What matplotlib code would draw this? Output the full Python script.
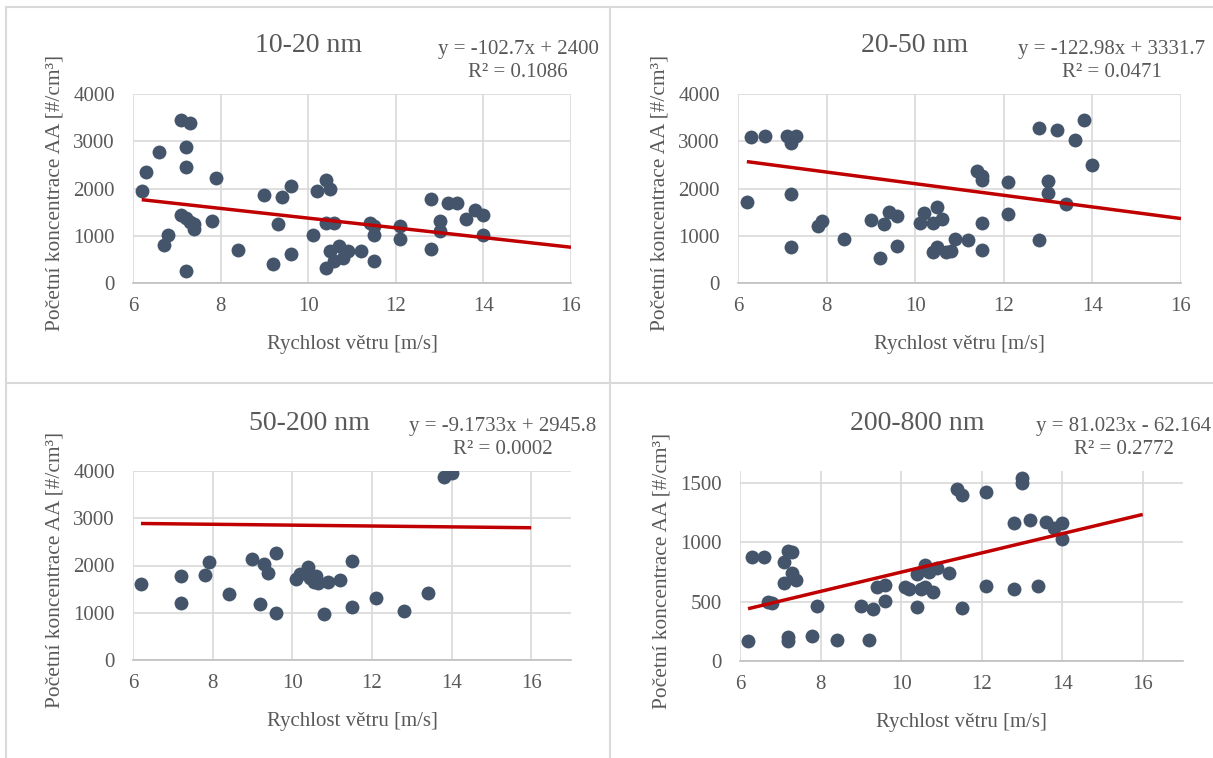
import matplotlib
matplotlib.use("agg")
import matplotlib.pyplot as plt
from matplotlib.lines import Line2D
import numpy as np

plt.rcParams["font.family"] = ["Liberation Serif", "DejaVu Serif"]

# --- data ---
titles = ["10-20 nm", "20-50 nm", "50-200 nm", "200-800 nm"]

x_1020 = [6.2, 6.3, 6.6, 6.7, 6.8, 7.1, 7.3, 7.2, 7.2, 7.1, 7.2, 7.3, 7.4, 7.4, 7.2,
          7.8, 7.9, 8.4, 9.0, 9.4, 9.3, 9.2, 9.6, 9.6, 10.1, 10.2, 10.4, 10.5, 10.4,
          10.6, 10.5, 10.6, 10.7, 10.8, 10.9, 10.4, 11.2, 11.4, 11.5, 11.5, 11.5,
          12.1, 12.1, 12.8, 12.8, 13.0, 13.0, 13.2, 13.4, 13.6, 13.8, 14.0, 14.0]
y_1020 = [1940, 2350, 2780, 800, 1020, 3450, 3390, 2870, 2450, 1430, 1380, 1300,
          1250, 1150, 250, 1320, 2220, 690, 1870, 1830, 1250, 400, 2050, 620, 1010,
          1940, 2180, 2000, 1280, 1280, 670, 460, 790, 530, 670, 310, 670, 1270,
          1210, 1020, 470, 1210, 930, 1780, 730, 1320, 1090, 1700, 1690, 1350, 1550,
          1430, 1010]

x_2050 = [6.2, 6.3, 6.6, 7.1, 7.3, 7.2, 7.2, 7.2, 7.8, 7.9, 8.4, 9.0, 9.3, 9.4, 9.6,
          9.6, 9.2, 10.1, 10.2, 10.4, 10.5, 10.6, 10.4, 10.5, 10.7, 10.8, 10.9, 11.2,
          11.4, 11.5, 11.5, 11.5, 11.5, 12.1, 12.1, 12.8, 12.8, 13.2, 13.0, 13.0,
          13.4, 13.6, 13.8, 14.0]
y_2050 = [1710, 3080, 3120, 3120, 3120, 2960, 1880, 760, 1210, 1320, 940, 1340, 1240,
          1500, 1410, 780, 530, 1270, 1480, 1270, 1610, 1360, 660, 760, 660, 670,
          930, 900, 2380, 2260, 2190, 1270, 690, 2130, 1460, 3270, 900, 3240, 2150,
          1900, 1680, 3020, 3440, 2490]

x_50200 = [6.2, 7.2, 7.2, 7.8, 7.9, 8.4, 9.0, 9.3, 9.4, 9.2, 9.6, 9.6, 10.1, 10.2,
           10.4, 10.45, 10.55, 10.65, 10.6, 10.9, 11.2, 10.8, 11.5, 11.5, 12.1, 12.8,
           13.4, 13.8, 14.0]
y_50200 = [1610, 1770, 1200, 1790, 2070, 1390, 2130, 2040, 1850, 1180, 2260, 990,
           1720, 1830, 1960, 1740, 1650, 1630, 1780, 1650, 1690, 970, 2090, 1130,
           1310, 1040, 1420, 3870, 3950]

x_200800 = [6.2, 6.3, 6.6, 6.7, 6.8, 7.1, 7.2, 7.3, 7.1, 7.3, 7.4, 7.2, 7.2, 7.8, 7.9,
            8.4, 9.0, 9.2, 9.3, 9.4, 9.6, 9.6, 10.1, 10.2, 10.4, 10.4, 10.5, 10.6,
            10.6, 10.7, 10.8, 10.9, 11.2, 11.4, 11.5, 11.5, 12.1, 12.1, 12.8, 12.8,
            13.0, 13.0, 13.2, 13.4, 13.6, 13.8, 14.0, 14.0]
y_200800 = [170, 880, 880, 500, 490, 830, 930, 920, 660, 740, 680, 200, 165, 210, 460,
            175, 460, 175, 435, 620, 640, 505, 625, 605, 455, 735, 610, 805, 620, 750,
            580, 780, 740, 1445, 1400, 450, 1420, 630, 1160, 605, 1540, 1500, 1185,
            630, 1170, 1120, 1160, 1030]

slopes = [-102.7, -122.98, -9.1733, 81.023]
intercepts = [2400, 3331.7, 2945.8, -62.164]
equations = ["y = -102.7x + 2400\nR² = 0.1086",
             "y = -122.98x + 3331.7\nR² = 0.0471",
             "y = -9.1733x + 2945.8\nR² = 0.0002",
             "y = 81.023x - 62.164\nR² = 0.2772"]

xs = [x_1020, x_2050, x_50200, x_200800]
ys = [y_1020, y_2050, y_50200, y_200800]

# --- layout (pixels in a 1213x758 canvas) ---
W, H = 1213, 758
axes_px = [(133, 571, 94, 283), (738, 1181, 94, 283),
           (133, 571, 471, 660), (740, 1183, 471, 661)]
xmaxs = [16, 16, 17, 17]
ymaxs = [4000, 4000, 4000, 1600]
yticks = [np.arange(0, 4001, 1000)] * 3 + [np.arange(0, 1501, 500)]
title_pos = [(309, 46), (915, 46), (309, 423), (917, 423)]
eq_pos = [(518, 61), (1112, 61), (503, 438), (1124, 438)]

DOT = "#44546A"
RED = "#C00000"
GRID = "#D9D9D9"
TXT = "#595959"

fig = plt.figure(figsize=(W / 100, H / 100), dpi=100)

for i in range(4):
    l, r, t, b = axes_px[i]
    ax = fig.add_axes([l / W, 1 - b / H, (r - l) / W, (b - t) / H])
    ax.scatter(xs[i], ys[i], s=100, color=DOT, zorder=3, linewidths=0)
    xl = np.array([min(xs[i]), 16])
    ax.plot(xl, slopes[i] * xl + intercepts[i], color=RED, lw=2.5, zorder=4,
            solid_capstyle="butt")
    ax.set_xlim(6, xmaxs[i])
    ax.set_ylim(0, ymaxs[i])
    ax.set_xticks(np.arange(6, 17, 2))
    ax.set_yticks(yticks[i])
    ax.grid(True, color=GRID, lw=1.2)
    ax.set_axisbelow(True)
    for s in ["top", "right", "left"]:
        ax.spines[s].set_visible(False)
    ax.spines["bottom"].set_color("#BFBFBF")
    ax.spines["bottom"].set_linewidth(1.2)
    ax.tick_params(length=0, labelsize=15, labelcolor=TXT, pad=10)
    ax.tick_params(axis="y", pad=13)
    ax.set_xlabel("Rychlost větru [m/s]", fontsize=15, color=TXT, labelpad=14)
    ax.set_ylabel("Početní koncentrace AA [#/cm³]", fontsize=15.4, color=TXT,
                  labelpad=6)
    ax.yaxis.label.set_y(0.475)
    tx, ty = title_pos[i]
    fig.text(tx / W, 1 - ty / H, titles[i], fontsize=20, color=TXT,
             ha="center", va="center")
    ex, ey = eq_pos[i]
    fig.text(ex / W, 1 - ey / H, equations[i], fontsize=15, color=TXT,
             ha="center", va="center", multialignment="center", linespacing=1.3)

# chart area borders
for (x0, y0, x1, y1) in [(6, 7, W, 7), (6, 7, 6, H), (610, 7, 610, H), (6, 383, W, 383)]:
    fig.add_artist(Line2D([x0 / W, x1 / W], [1 - y0 / H, 1 - y1 / H],
                          color=GRID, lw=1.5, transform=fig.transFigure))

fig.savefig("out.png", dpi=100, facecolor="white")
